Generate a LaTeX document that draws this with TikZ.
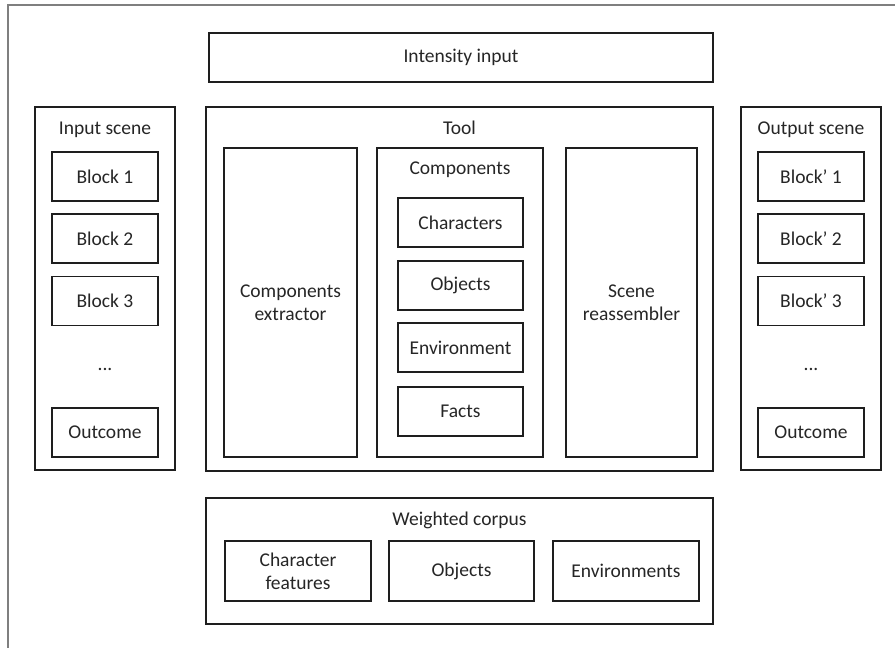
\documentclass[tikz,border=0pt]{standalone}
\usepackage{fontspec}
\setmainfont{Carlito}
\definecolor{edge}{HTML}{1E1E1E}
\definecolor{frame}{HTML}{7F7F7F}
\definecolor{txt}{HTML}{262626}
\begin{document}
\begin{tikzpicture}[x=1pt,y=-1pt,
  box/.style={draw=edge, line width=1.6pt, fill=white, text=txt, inner sep=0pt, align=center,
    font=\fontsize{19.5}{23}\selectfont},
  lbl/.style={text=txt, inner sep=0pt, align=center, font=\fontsize{19.5}{23}\selectfont}]
\useasboundingbox (0,0) rectangle (895,648);
\fill[white] (0,0) rectangle (895,648);
\coordinate (fbl) at (8,648);
\coordinate (ftl) at (8,5);
\coordinate (ftr) at (895,5);
\draw[frame, line width=1.4pt] (fbl) -- (ftl) -- (ftr);
% Intensity input
\node[box, minimum width=504, minimum height=49] (intensity) at (461,57.5) {Intensity input};
% Input scene
\node[box, minimum width=140, minimum height=363] (inscene) at (105,288.5) {};
\node[lbl] (inlabel) at (105,130) {Input scene};
\node[box, minimum width=106, minimum height=49] (ib1) at (105,176.5) {Block 1};
\node[box, minimum width=106, minimum height=49] (ib2) at (105,238.5) {Block 2};
\node[box, minimum width=106, minimum height=49] (ib3) at (105,301) {Block 3};
\node[lbl] (idots) at (105,369) {...};
\node[box, minimum width=106, minimum height=49] (iout) at (105,432.5) {Outcome};
% Tool
\node[box, minimum width=507, minimum height=364] (tool) at (459.5,289) {};
\node[lbl] (toollabel) at (459.5,128) {Tool};
\node[box, minimum width=133, minimum height=309] (extractor) at (290.5,302.5) {Components\\extractor};
\node[box, minimum width=166, minimum height=309] (components) at (460,302.5) {};
\node[lbl] (complabel) at (460,170) {Components};
\node[box, minimum width=125, minimum height=49] (chars) at (460.5,222.5) {Characters};
\node[box, minimum width=125, minimum height=49] (objs) at (460.5,285.5) {Objects};
\node[box, minimum width=125, minimum height=49] (env) at (460.5,347.5) {Environment};
\node[box, minimum width=125, minimum height=49] (facts) at (460.5,411.5) {Facts};
\node[box, minimum width=131, minimum height=309] (reassembler) at (631.5,302.5) {Scene\\reassembler};
% Output scene
\node[box, minimum width=140, minimum height=363] (outscene) at (811,288.5) {};
\node[lbl] (outlabel) at (811,130) {Output scene};
\node[box, minimum width=106, minimum height=49] (ob1) at (811,176.5) {Block’ 1};
\node[box, minimum width=106, minimum height=49] (ob2) at (811,238.5) {Block’ 2};
\node[box, minimum width=106, minimum height=49] (ob3) at (811,301) {Block’ 3};
\node[lbl] (odots) at (811,369) {...};
\node[box, minimum width=106, minimum height=49] (oout) at (811,432.5) {Outcome};
% Weighted corpus
\node[box, minimum width=507, minimum height=126] (corpus) at (459.5,561) {};
\node[lbl] (corplabel) at (459.5,520) {Weighted corpus};
\node[box, minimum width=146, minimum height=60] (cfeat) at (298,571) {Character\\features};
\node[box, minimum width=145, minimum height=60] (cobj) at (461.5,571) {Objects};
\node[box, minimum width=146, minimum height=60] (cenv) at (626,571) {Environments};
\end{tikzpicture}
\end{document}
